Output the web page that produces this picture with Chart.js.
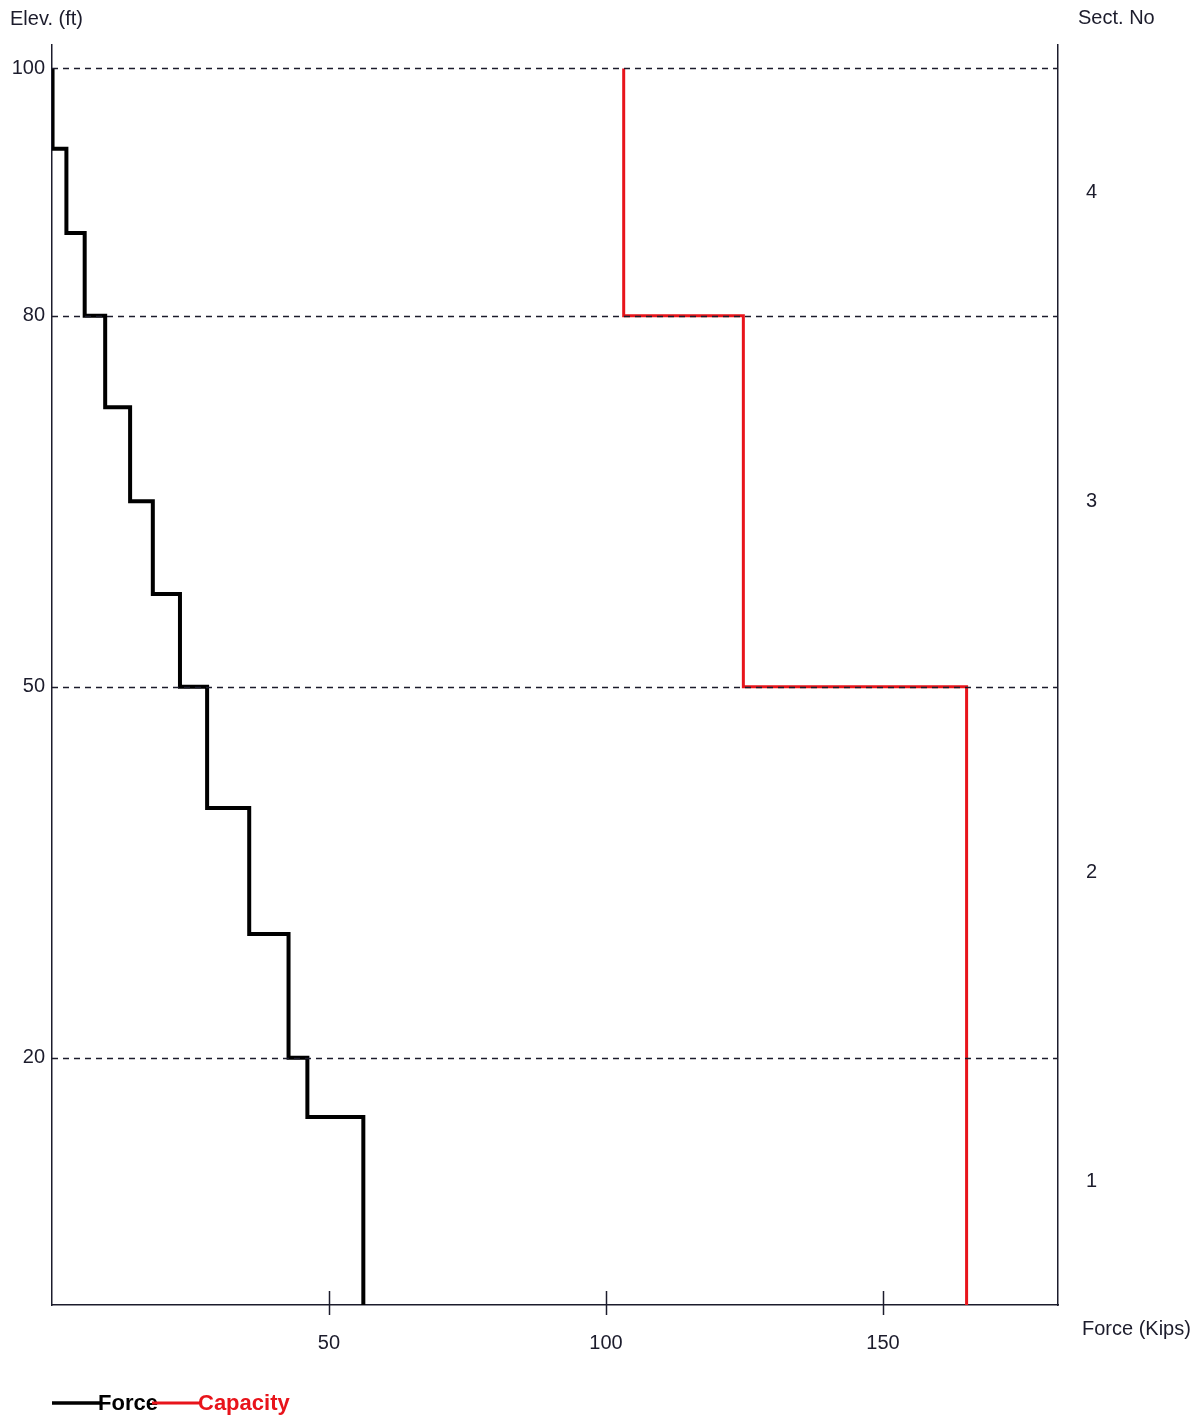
<!DOCTYPE html>
<html>
<head>
<meta charset="utf-8">
<title>Force vs Capacity</title>
<script src="https://cdn.jsdelivr.net/npm/chart.js@4.4.1/dist/chart.umd.min.js"></script>
<style>
  html, body { margin: 0; padding: 0; background: #ffffff; }
  canvas { display: block; }
</style>
</head>
<body>
<canvas id="chart" width="1200" height="1418"></canvas>
<script>
// Elevation (ft) at the top of each force step, from the tower top downwards
const forceStepTops = [100, 93.5, 86.7, 80, 72.6, 65.0, 57.5, 50, 40.2, 30.0, 20, 15.2];
// Force (kips) acting over each of those steps
const forceValues = [0.1, 2.6, 5.9, 9.6, 14.1, 18.2, 23.1, 28.0, 35.6, 42.7, 46.1, 56.2];
// Capacity (kips) per tower section, with the elevation at the top of each section
const capacityTops = [100, 80, 50];
const capacityValues = [103.2, 124.8, 165.1];
const baseElevation = 0;

// Axis ticks
const elevationTicks = [100, 80, 50, 20];
const forceTicks = [50, 100, 150];
// Section numbers, placed at the middle of each section
const sectionNames = ['4', '3', '2', '1'];
const sectionMids = [90, 65, 35, 10];

const X_MAX = 181.6;
const Y_MAX = 101.9;

const FONT = "'Liberation Sans', Arial, sans-serif";
const INK = '#1c1c2c';
const RED = '#e8141b';

// Turn step tops + values into a vertical staircase profile
function staircase(tops, values, base) {
  const pts = [];
  for (let i = 0; i < tops.length; i++) {
    const bottom = i + 1 < tops.length ? tops[i + 1] : base;
    pts.push({ x: values[i], y: tops[i] });
    pts.push({ x: values[i], y: bottom });
  }
  return pts;
}

const decorations = {
  id: 'decorations',
  beforeDraw(chart) {
    const c = chart.ctx;
    c.save();
    c.fillStyle = '#ffffff';
    c.fillRect(0, 0, chart.width, chart.height);
    c.restore();
  },
  afterDatasetsDraw(chart) {
    const c = chart.ctx;
    const area = chart.chartArea;
    const xs = chart.scales.x;
    const ys = chart.scales.y;
    c.save();
    // dashed elevation reference lines
    c.strokeStyle = INK;
    c.lineWidth = 1.6;
    c.setLineDash([6, 5]);
    elevationTicks.forEach(v => {
      const py = Math.round(ys.getPixelForValue(v)) + 0.5;
      c.beginPath();
      c.moveTo(area.left, py);
      c.lineTo(area.right, py);
      c.stroke();
    });
    c.setLineDash([]);
    // force tick marks crossing the bottom axis
    c.lineWidth = 1.5;
    forceTicks.forEach(v => {
      const px = Math.round(xs.getPixelForValue(v)) + 0.5;
      c.beginPath();
      c.moveTo(px, area.bottom - 14);
      c.lineTo(px, area.bottom + 10);
      c.stroke();
    });
    c.restore();
  },
  afterDraw(chart) {
    const c = chart.ctx;
    const area = chart.chartArea;
    c.save();
    c.fillStyle = INK;
    c.font = '20px ' + FONT;
    c.textBaseline = 'middle';
    c.textAlign = 'left';
    c.fillText('Elev. (ft)', 10, 19);
    c.fillText('Sect. No', 1078, 18);
    c.fillText('Force (Kips)', 1082, 1329);

    // legend
    const ly = 1403;
    c.lineWidth = 3.5;
    c.strokeStyle = '#000000';
    c.beginPath(); c.moveTo(area.left, ly); c.lineTo(area.left + 48, ly); c.stroke();
    c.font = 'bold 22px ' + FONT;
    c.fillStyle = '#000000';
    c.fillText('Force', 98, ly + 1);
    c.strokeStyle = RED;
    c.lineWidth = 3;
    c.beginPath(); c.moveTo(152, ly); c.lineTo(200, ly); c.stroke();
    c.fillStyle = RED;
    c.fillText('Capacity', 198, ly + 1);
    c.restore();
  }
};

const tickFont = { family: FONT, size: 20 };

new Chart(document.getElementById('chart'), {
  type: 'scatter',
  data: {
    datasets: [
      {
        label: 'Force',
        data: staircase(forceStepTops, forceValues, baseElevation),
        showLine: true,
        borderColor: '#000000',
        borderWidth: 4,
        pointRadius: 0,
        tension: 0,
        fill: false
      },
      {
        label: 'Capacity',
        data: staircase(capacityTops, capacityValues, baseElevation),
        showLine: true,
        borderColor: RED,
        borderWidth: 3,
        pointRadius: 0,
        tension: 0,
        fill: false
      }
    ]
  },
  options: {
    responsive: false,
    animation: false,
    events: [],
    layout: { padding: { top: 45, left: 0, right: 0, bottom: 0 } },
    plugins: {
      legend: { display: false },
      tooltip: { enabled: false }
    },
    scales: {
      x: {
        type: 'linear',
        position: 'bottom',
        min: 0,
        max: X_MAX,
        grid: { display: false },
        border: { display: true, color: INK, width: 1.5 },
        ticks: { font: tickFont, color: INK, padding: 18, maxRotation: 0 },
        afterBuildTicks(s) { s.ticks = forceTicks.map(v => ({ value: v })); },
        afterFit(s) { s.height = 113; }
      },
      y: {
        type: 'linear',
        position: 'left',
        min: 0,
        max: Y_MAX,
        grid: { display: false, drawTicks: false },
        border: { display: true, color: INK, width: 1.5 },
        ticks: { font: tickFont, color: INK, padding: 7 },
        afterBuildTicks(s) { s.ticks = elevationTicks.map(v => ({ value: v })); },
        afterFit(s) { s.width = 52; }
      },
      sect: {
        type: 'linear',
        position: 'right',
        min: 0,
        max: Y_MAX,
        grid: { display: false },
        border: { display: true, color: INK, width: 1.5 },
        ticks: {
          font: tickFont,
          color: INK,
          padding: 20,
          callback(value) {
            const i = sectionMids.indexOf(value);
            return i >= 0 ? sectionNames[i] : '';
          }
        },
        afterBuildTicks(s) { s.ticks = sectionMids.map(v => ({ value: v })); },
        afterFit(s) { s.width = 142; }
      }
    }
  },
  plugins: [decorations]
});
</script>
</body>
</html>
